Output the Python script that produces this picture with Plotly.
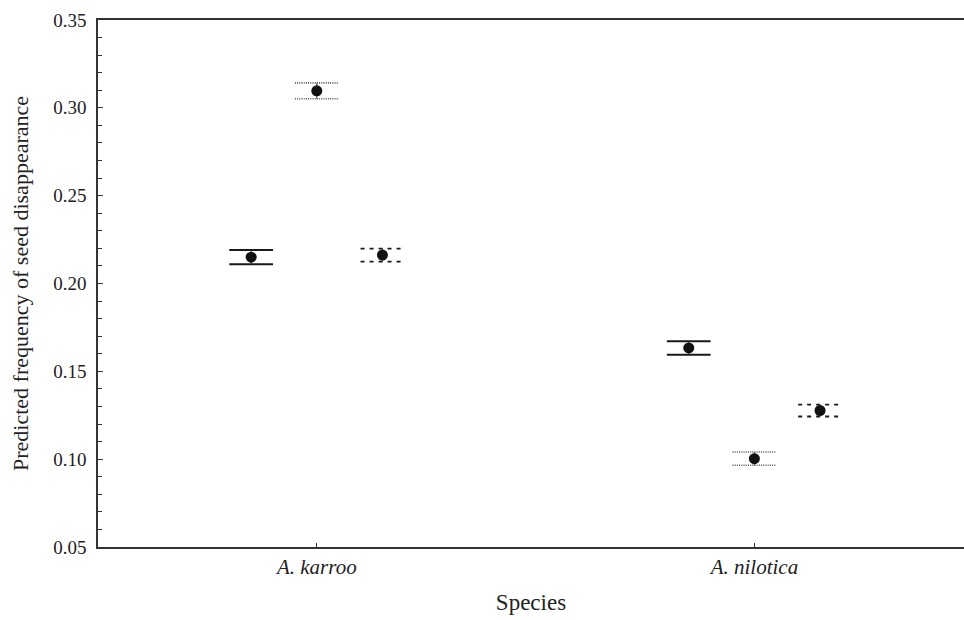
import plotly.graph_objects as go

# ---- data ----
categories = ["A. karroo", "A. nilotica"]
series_names = ["Group 1", "Group 2", "Group 3"]
series_values = [
    [0.2150, 0.1633],   # solid
    [0.3097, 0.1003],   # dotted
    [0.2162, 0.1277],   # dashed
]
series_errors = [
    [0.0040, 0.0038],
    [0.0045, 0.0038],
    [0.0037, 0.0034],
]
series_offsets = [-0.15, 0.0, 0.15]
series_dash = ["solid", "1px,1.2px", "4px,5px"]
series_capcolor = ["#1a1a1a", "#555555", "#1a1a1a"]
series_capwidth = [2.0, 1.6, 1.8]
y_ticks = [0.05, 0.10, 0.15, 0.20, 0.25, 0.30, 0.35]
cap_half = 0.05  # half-width of caps in category units

FONT = "Liberation Serif"

fig = go.Figure()
for name, vals, errs, off, dash, col, lw in zip(series_names, series_values, series_errors,
                                                series_offsets, series_dash, series_capcolor, series_capwidth):
    cx, cy = [], []
    sx, sy = [], []
    for i, (v, e) in enumerate(zip(vals, errs)):
        x0 = i + off
        for yy in (v + e, v - e):
            cx += [x0 - cap_half, x0 + cap_half, None]
            cy += [yy, yy, None]
        sx += [x0, x0, None]
        sy += [v - e, v + e, None]
    fig.add_trace(go.Scatter(x=sx, y=sy, mode="lines", line=dict(color="#333", width=1),
                             showlegend=False, hoverinfo="skip"))
    fig.add_trace(go.Scatter(x=cx, y=cy, mode="lines", line=dict(color=col, width=lw, dash=dash),
                             showlegend=False, hoverinfo="skip"))
    fig.add_trace(go.Scatter(x=[i + off for i in range(len(vals))], y=vals, mode="markers",
                             name=name, marker=dict(color="#111", size=11),
                             showlegend=False))

fig.update_layout(
    width=964, height=620,
    margin=dict(l=98, r=0, t=20, b=73),
    paper_bgcolor="white", plot_bgcolor="white",
    font=dict(family=FONT, color="#222", size=19),
    xaxis=dict(
        range=[-0.5, 1.479],
        tickvals=list(range(len(categories))),
        ticktext=["<i>%s</i>" % c for c in categories],
        showgrid=False, zeroline=False,
        showline=True, linecolor="#333", linewidth=1.5, mirror=True,
        ticks="inside", ticklen=4, tickcolor="#333",
        tickfont=dict(size=21, family=FONT),
        title=dict(text="Species", font=dict(size=23, family=FONT), standoff=16),
    ),
    yaxis=dict(
        range=[0.05, 0.35],
        tickvals=y_ticks,
        tickformat=".2f",
        showgrid=False, zeroline=False,
        showline=True, linecolor="#333", linewidth=1.5,
        ticks="inside", ticklen=5, tickcolor="#333",
        minor=dict(dtick=0.01, ticks="inside", ticklen=4, tickcolor="#333"),
        ticklabelstandoff=6,
        tickfont=dict(size=19, family=FONT),
        title=dict(text="Predicted frequency of seed disappearance",
                   font=dict(size=22, family=FONT), standoff=19),
    ),
)

fig.write_html("out.html")
